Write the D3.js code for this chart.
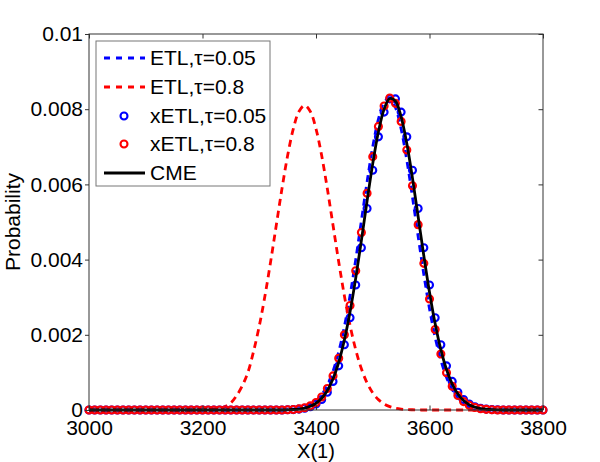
<!DOCTYPE html>
<html>
<head>
<meta charset="utf-8">
<script src="https://cdn.jsdelivr.net/npm/d3@7"></script>
<style>
html,body{margin:0;padding:0;background:#fff;}
svg{display:block;}
text{font-family:"Liberation Sans",Arial,Helvetica,sans-serif;}
</style>
</head>
<body>
<script>
// ---------- data ----------
const xGrid = [
  3000,3010,3020,3030,3040,3050,3060,3070,3080,3090,
  3100,3110,3120,3130,3140,3150,3160,3170,3180,3190,
  3200,3210,3220,3230,3240,3250,3260,3270,3280,3290,
  3300,3310,3320,3330,3340,3350,3360,3370,3380,3390,
  3400,3410,3420,3430,3440,3450,3460,3470,3480,3490,
  3500,3510,3520,3530,3540,3550,3560,3570,3580,3590,
  3600,3610,3620,3630,3640,3650,3660,3670,3680,3690,
  3700,3710,3720,3730,3740,3750,3760,3770,3780,3790,
  3800
];
const etl005 = [
  0,0,0,0,0,0,0,0,0,0,
  0,0,0,0,0,0,0,0,0,0,
  0,0,0,0,0,0,0,0,0,0,
  0,0,0,0,0,0.000009,0.000018,0.000037,0.000072,0.000133,
  0.000237,0.000404,0.000660,0.001033,0.001546,0.002217,0.003043,0.004000,0.005034,0.006067,
  0.007001,0.007736,0.008186,0.008293,0.008045,0.007472,0.006646,0.005660,0.004616,0.003604,
  0.002695,0.001929,0.001322,0.000868,0.000545,0.000328,0.000189,0.000104,0.000055,0.000028,
  0.000014,0.000006,0,0,0,0,0,0,0,0,
  0
];
const etl08 = [
  0,0,0,0,0,0,0,0,0,0,
  0,0,0,0,0,0,0,0,0,0.000002,
  0.000005,0.000010,0.000020,0.000040,0.000090,0.000190,0.000380,0.000640,0.001000,0.001560,
  0.002230,0.003030,0.003940,0.004913,0.005882,0.006766,0.007477,0.007940,0.008100,0.007940,
  0.007477,0.006766,0.005882,0.004913,0.003943,0.003040,0.002252,0.001603,0.001096,0.000720,
  0.000455,0.000276,0.000161,0.000090,0.000048,0.000025,0.000012,0.000006,0.000002,0,
  0,0,0,0,0,0,0,0,0,0,
  0,0,0,0,0,0,0,0,0,0,
  0
];
const xetl005 = [
  0,0,0,0,0,0,0,0,0,0,
  0,0,0,0,0,0,0,0,0,0,
  0,0,0,0,0,0,0,0,0,0,
  0,0,0,0,0,0.000005,0.000011,0.000023,0.000045,0.000087,
  0.000159,0.000280,0.000472,0.000760,0.001174,0.001735,0.002455,0.003326,0.004316,0.005361,
  0.006378,0.007265,0.007923,0.008275,0.008275,0.007923,0.007265,0.006378,0.005361,0.004316,
  0.003326,0.002455,0.001735,0.001174,0.000760,0.000472,0.000280,0.000159,0.000087,0.000045,
  0.000023,0.000011,0.000005,0,0,0,0,0,0,0,
  0
];
const xetl08 = [
  0,0,0,0,0,0,0,0,0,0,
  0,0,0,0,0,0,0,0,0,0,
  0,0,0,0,0,0,0,0,0,0,
  0,0,0,0,0,0.000007,0.000015,0.000030,0.000059,0.000111,
  0.000200,0.000346,0.000573,0.000907,0.001376,0.001999,0.002780,0.003702,0.004720,0.005763,
  0.006738,0.007542,0.008085,0.008298,0.008155,0.007675,0.006915,0.005966,0.004929,0.003900,
  0.002954,0.002142,0.001488,0.000989,0.000630,0.000384,0.000224,0.000125,0.000067,0.000034,
  0.000017,0.000008,0,0,0,0,0,0,0,0,
  0
];
const cme = [
  0,0,0,0,0,0,0,0,0,0,
  0,0,0,0,0,0,0,0,0,0,
  0,0,0,0,0,0,0,0,0,0,
  0,0,0,0,0,0.000006,0.000013,0.000026,0.000052,0.000098,
  0.000179,0.000311,0.000520,0.000830,0.001270,0.001862,0.002611,0.003508,0.004512,0.005557,
  0.006553,0.007399,0.008001,0.008284,0.008212,0.007795,0.007086,0.006167,0.005139,0.004101,
  0.003133,0.002292,0.001606,0.001077,0.000692,0.000426,0.000251,0.000141,0.000076,0.000039,
  0.000020,0.000009,0.000004,0,0,0,0,0,0,0,
  0
];
const xTicks = [3000,3200,3400,3600,3800];
const yTicks = [0,0.002,0.004,0.006,0.008,0.01];
const yTickLabels = ["0","0.002","0.004","0.006","0.008","0.01"];
const legendLabels = ["ETL,\u03c4=0.05","ETL,\u03c4=0.8","xETL,\u03c4=0.05","xETL,\u03c4=0.8","CME"];
const xLabel = "X(1)";
const yLabel = "Probability";

// ---------- layout ----------
const W = 600, H = 462;
const L = 89, R = 543, T = 34, B = 410;
const FS = 21;

const svg = d3.select("body").append("svg").attr("width", W).attr("height", H);
const x = d3.scaleLinear().domain([3000, 3800]).range([L, R]);
const y = d3.scaleLinear().domain([0, 0.01]).range([B, T]);

svg.append("defs").append("clipPath").attr("id","plotclip")
  .append("rect").attr("x", L - 6).attr("y", T - 6).attr("width", R - L + 12).attr("height", B - T + 12);

const plot = svg.append("g").attr("clip-path", "url(#plotclip)");
const line = d3.line().x(d => x(d[0])).y(d => y(d[1])).curve(d3.curveCatmullRom);
const pts = arr => xGrid.map((xv, i) => [xv, arr[i]]);

plot.append("path").datum(pts(etl005)).attr("d", line)
  .attr("fill","none").attr("stroke","#0000ff").attr("stroke-width",2.8).attr("stroke-dasharray","7,5");
plot.append("path").datum(pts(etl08)).attr("d", line)
  .attr("fill","none").attr("stroke","#ff0000").attr("stroke-width",2.8).attr("stroke-dasharray","7,5");

plot.append("g").selectAll("circle").data(pts(xetl005)).join("circle")
  .attr("cx", d => x(d[0])).attr("cy", d => y(d[1])).attr("r", 3.5)
  .attr("fill","none").attr("stroke","#0000ff").attr("stroke-width",2.1);
plot.append("g").selectAll("circle").data(pts(xetl08)).join("circle")
  .attr("cx", d => x(d[0])).attr("cy", d => y(d[1])).attr("r", 3.5)
  .attr("fill","none").attr("stroke","#ff0000").attr("stroke-width",2.1);

plot.append("path").datum(pts(cme)).attr("d", line)
  .attr("fill","none").attr("stroke","#000").attr("stroke-width",2.8);

// ---------- axes ----------
const axisColor = "#333";
const gx = svg.append("g").attr("transform", `translate(0,${B})`)
  .call(d3.axisBottom(x).tickValues(xTicks).tickSizeInner(-4.5).tickSizeOuter(0).tickPadding(10).tickFormat(d3.format("d")));
const gxTop = svg.append("g").attr("transform", `translate(0,${T})`)
  .call(d3.axisTop(x).tickValues(xTicks).tickSizeInner(-4.5).tickSizeOuter(0).tickFormat(""));
const gy = svg.append("g").attr("transform", `translate(${L},0)`)
  .call(d3.axisLeft(y).tickValues(yTicks).tickSizeInner(4).tickSizeOuter(0).tickPadding(2).tickFormat((d,i) => yTickLabels[i]));
const gyR = svg.append("g").attr("transform", `translate(${R},0)`)
  .call(d3.axisRight(y).tickValues(yTicks).tickSizeInner(-4.5).tickSizeOuter(0).tickFormat(""));
[gx, gxTop, gy, gyR].forEach(g => {
  g.select(".domain").remove();
  g.selectAll(".tick line").attr("stroke", axisColor);
  g.selectAll("text").attr("font-size", FS).attr("fill","#000")
    .attr("font-family", '"Liberation Sans",Arial,Helvetica,sans-serif');
});
svg.append("rect").attr("x", L).attr("y", T).attr("width", R - L).attr("height", B - T)
  .attr("fill","none").attr("stroke", axisColor).attr("stroke-width",1);

svg.append("text").attr("x", (L + R) / 2).attr("y", 457.5).attr("text-anchor","middle")
  .attr("font-size", 20).text(xLabel);
svg.append("text").attr("transform", `translate(20,${(T + B) / 2}) rotate(-90)`)
  .attr("text-anchor","middle").attr("font-size", FS).text(yLabel);

// ---------- legend ----------
const lg = svg.append("g");
lg.append("rect").attr("x", 96).attr("y", 41).attr("width", 174).attr("height", 145)
  .attr("fill","#fff").attr("stroke","#777").attr("stroke-width",1);
const rowY = [58, 87, 116, 144, 173];
const styles = [
  {type:"line", color:"#0000ff", dash:"6,6"},
  {type:"line", color:"#ff0000", dash:"6,6"},
  {type:"marker", color:"#0000ff"},
  {type:"marker", color:"#ff0000"},
  {type:"line", color:"#000", dash:null}
];
styles.forEach((s, i) => {
  if (s.type === "line") {
    const l = lg.append("line").attr("x1",104).attr("x2",145).attr("y1",rowY[i]).attr("y2",rowY[i])
      .attr("stroke", s.color).attr("stroke-width", 2.8);
    if (s.dash) l.attr("stroke-dasharray", s.dash);
  } else {
    lg.append("circle").attr("cx",124).attr("cy",rowY[i]).attr("r",3.5)
      .attr("fill","none").attr("stroke", s.color).attr("stroke-width",2.1);
  }
  lg.append("text").attr("x",150).attr("y",rowY[i]).attr("dy","0.35em")
    .attr("font-size", FS).text(legendLabels[i]);
});
</script>
</body>
</html>
